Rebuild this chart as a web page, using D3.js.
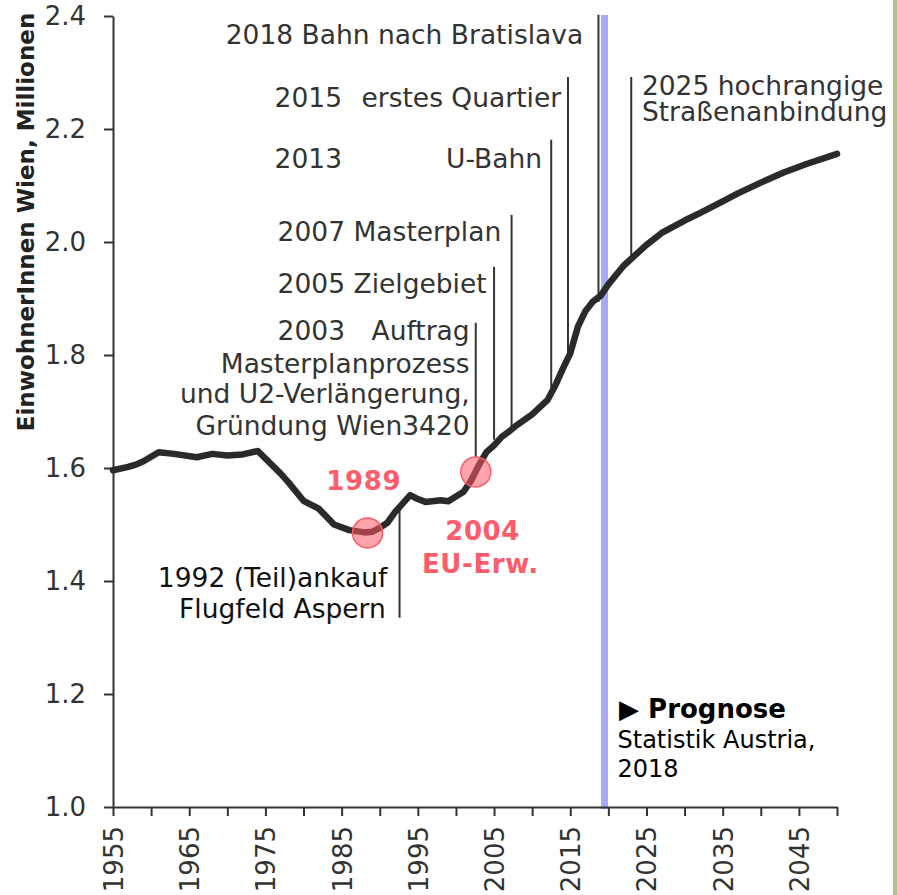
<!DOCTYPE html>
<html lang="de">
<head>
<meta charset="utf-8">
<script src="https://d3js.org/d3.v7.min.js"></script>
<style>
  body { margin: 0; background: #fff; }
  text { font-family: "DejaVu Sans", Verdana, sans-serif; }
</style>
</head>
<body>
<div id="chart"></div>
<script>
const width = 897
const height = 895

// population of Vienna, millions (from 2019 on = forecast)
const years = [1955, 1957, 1958, 1959, 1960, 1961, 1963, 1966, 1968, 1970, 1972, 1974,
  1977, 1978, 1980, 1982, 1984, 1986, 1988, 1989, 1990, 1991, 1992, 1994, 1995, 1996,
  1998, 1999, 2001, 2002, 2003, 2004, 2005, 2006, 2007, 2008, 2010, 2012, 2013, 2014,
  2015, 2016, 2017, 2018, 2019, 2020, 2022, 2025, 2027, 2030, 2032, 2035, 2037, 2040,
  2043, 2046, 2050]
const population = [1.596, 1.602, 1.606, 1.612, 1.620, 1.628, 1.625, 1.619, 1.625, 1.622, 1.624, 1.630,
  1.590, 1.575, 1.542, 1.528, 1.500, 1.490, 1.486, 1.487, 1.494, 1.503, 1.522, 1.552, 1.545, 1.540,
  1.543, 1.541, 1.558, 1.578, 1.605, 1.628, 1.640, 1.655, 1.665, 1.676, 1.695, 1.720, 1.745, 1.775,
  1.803, 1.850, 1.878, 1.895, 1.905, 1.925, 1.958, 1.995, 2.016, 2.038, 2.051, 2.072, 2.086, 2.105,
  2.123, 2.138, 2.156]

const yTicks = [1.0, 1.2, 1.4, 1.6, 1.8, 2.0, 2.2, 2.4]
const xTickLabels = [1955, 1965, 1975, 1985, 1995, 2005, 2015, 2025, 2035, 2045]
const forecastStart = 2019.5

// highlighted points on the line
const markYears = [1988.4, 2002.6]
const markValues = [1.485, 1.593]

// leader lines: x year, top value, bottom value
const leaderYears = [2018.7, 2014.7, 2012.5, 2007.3, 2005.0, 2002.6, 1992.6, 2023.0]
const leaderTop = [2.402, 2.292, 2.181, 2.048, 1.956, 1.857, 1.526, 2.292]
const leaderBottom = [1.894, 1.804, 1.742, 1.673, 1.650, 1.619, 1.335, 1.977]

// annotation texts: text, year, value, anchor
const notes = [
  ["2018 Bahn nach Bratislava", 2016.7, 2.350, "end"],
  ["2015", 1976.2, 2.239, "start"],
  ["erstes Quartier", 2013.8, 2.239, "end"],
  ["2013", 1976.2, 2.131, "start"],
  ["U-Bahn", 2011.3, 2.131, "end"],
  ["2007 Masterplan", 1976.6, 2.002, "start"],
  ["2005 Zielgebiet", 1976.6, 1.910, "start"],
  ["2003", 1976.6, 1.827, "start"],
  ["Auftrag", 2001.8, 1.827, "end"],
  ["Masterplanprozess", 2001.8, 1.768, "end"],
  ["und U2-Verlängerung,", 2001.8, 1.715, "end"],
  ["Gründung Wien3420", 2001.8, 1.658, "end"],
  ["2025 hochrangige", 2024.4, 2.260, "start"],
  ["Straßenanbindung", 2024.4, 2.215, "start"]
]
const blackNotes = [
  ["1992 (Teil)ankauf", 1991.0, 1.389],
  ["Flugfeld Aspern", 1990.8, 1.335]
]
const redNotes = [
  ["1989", 1987.9, 1.561],
  ["2004", 2003.5, 1.473],
  ["EU-Erw.", 2003.2, 1.414]
]
const sourceNotes = [
  ["Statistik Austria,", 2021.2, 1.104],
  ["2018", 2021.2, 1.053]
]

const margin = {top: 16, right: 59, bottom: 88, left: 113}

const svg = d3.select("#chart").append("svg")
    .attr("width", width)
    .attr("height", height)

// strip of the map picture at the right edge
svg.append("rect")
    .attr("x", 893).attr("y", 0)
    .attr("width", 4).attr("height", height)
    .attr("fill", "#b3c38b")

const x = d3.scaleLinear()
    .domain([1955, 2050])
    .range([margin.left, width - margin.right - 1])

const y = d3.scaleLinear()
    .domain([1.0, 2.4])
    .range([height - margin.bottom, margin.top])

// forecast marker
svg.append("line")
    .attr("x1", x(forecastStart)).attr("x2", x(forecastStart))
    .attr("y1", y(2.4) - 1).attr("y2", y(1.0) + 2)
    .attr("stroke", "#a9a9f7")
    .attr("stroke-width", 7)

// y axis
const yAxis = svg.append("g")
    .attr("transform", `translate(${margin.left},0)`)
    .call(d3.axisLeft(y).tickValues(yTicks).tickFormat(d3.format(".1f")).tickSize(9).tickSizeOuter(0))
yAxis.select(".domain").attr("stroke", "#333").attr("stroke-width", 2)
yAxis.selectAll(".tick line").attr("stroke", "#333").attr("stroke-width", 2)
yAxis.selectAll(".tick text")
    .attr("x", -27)
    .attr("fill", "#333")
    .style("font-size", "26px")

// x axis
const xAxis = svg.append("g")
    .attr("transform", `translate(0,${y(1.0)})`)
    .call(d3.axisBottom(x).tickValues(d3.range(1955, 2051, 5)).tickSize(9).tickSizeOuter(0)
      .tickFormat(d => xTickLabels.includes(d) ? d : ""))
xAxis.select(".domain").attr("stroke", "#333").attr("stroke-width", 2)
xAxis.selectAll(".tick line").attr("stroke", "#333").attr("stroke-width", 2)
xAxis.selectAll(".tick text")
    .attr("transform", "rotate(-90)")
    .attr("x", -19)
    .attr("y", 0)
    .attr("dy", "0.36em")
    .attr("text-anchor", "end")
    .attr("fill", "#333")
    .style("font-size", "26px")

// y axis title
svg.append("text")
    .attr("transform", `translate(34,${(y(2.4) + 428) / 2}) rotate(-90)`)
    .attr("text-anchor", "middle")
    .attr("fill", "#222")
    .style("font-size", "23px")
    .style("font-weight", "bold")
    .text("EinwohnerInnen Wien, Millionen")

// leader lines
svg.append("g").selectAll("line")
  .data(leaderYears)
  .join("line")
    .attr("x1", d => x(d)).attr("x2", d => x(d))
    .attr("y1", (d, i) => y(leaderTop[i]))
    .attr("y2", (d, i) => y(leaderBottom[i]))
    .attr("stroke", "#333")
    .attr("stroke-width", 2)

// population line
const line = d3.line()
    .x(d => x(d[0]))
    .y(d => y(d[1]))

svg.append("path")
    .datum(years.map((d, i) => [d, population[i]]))
    .attr("d", line)
    .attr("fill", "none")
    .attr("stroke", "#2a2a2a")
    .attr("stroke-width", 6.5)
    .attr("stroke-linejoin", "round")
    .attr("stroke-linecap", "round")

// highlighted circles
svg.append("g").selectAll("circle")
  .data(markYears)
  .join("circle")
    .attr("cx", d => x(d))
    .attr("cy", (d, i) => y(markValues[i]))
    .attr("r", 15)
    .attr("fill", "#ff5a66")
    .attr("fill-opacity", 0.55)
    .attr("stroke", "#ff5a66")
    .attr("stroke-width", 1.5)

// annotations
svg.append("g").selectAll("text")
  .data(notes)
  .join("text")
    .attr("x", d => x(d[1]))
    .attr("y", d => y(d[2]))
    .attr("text-anchor", d => d[3])
    .attr("fill", "#333")
    .style("font-size", "26.5px")
    .text(d => d[0])

svg.append("g").selectAll("text")
  .data(blackNotes)
  .join("text")
    .attr("x", d => x(d[1]))
    .attr("y", d => y(d[2]))
    .attr("text-anchor", "end")
    .attr("fill", "#111")
    .style("font-size", "26.5px")
    .text(d => d[0])

svg.append("g").selectAll("text")
  .data(redNotes)
  .join("text")
    .attr("x", d => x(d[1]))
    .attr("y", d => y(d[2]))
    .attr("text-anchor", "middle")
    .attr("fill", "#fd5c6b")
    .style("font-size", "26px")
    .style("font-weight", "bold")
    .style("letter-spacing", "0.6px")
    .text(d => d[0])

svg.append("text")
    .attr("x", x(2021.4))
    .attr("y", y(1.158))
    .attr("fill", "#000")
    .style("font-size", "26px")
    .style("font-weight", "bold")
    .text("\u25B6 Prognose")

svg.append("g").selectAll("text")
  .data(sourceNotes)
  .join("text")
    .attr("x", d => x(d[1]))
    .attr("y", d => y(d[2]))
    .attr("fill", "#000")
    .style("font-size", "24px")
    .text(d => d[0])
</script>
</body>
</html>
